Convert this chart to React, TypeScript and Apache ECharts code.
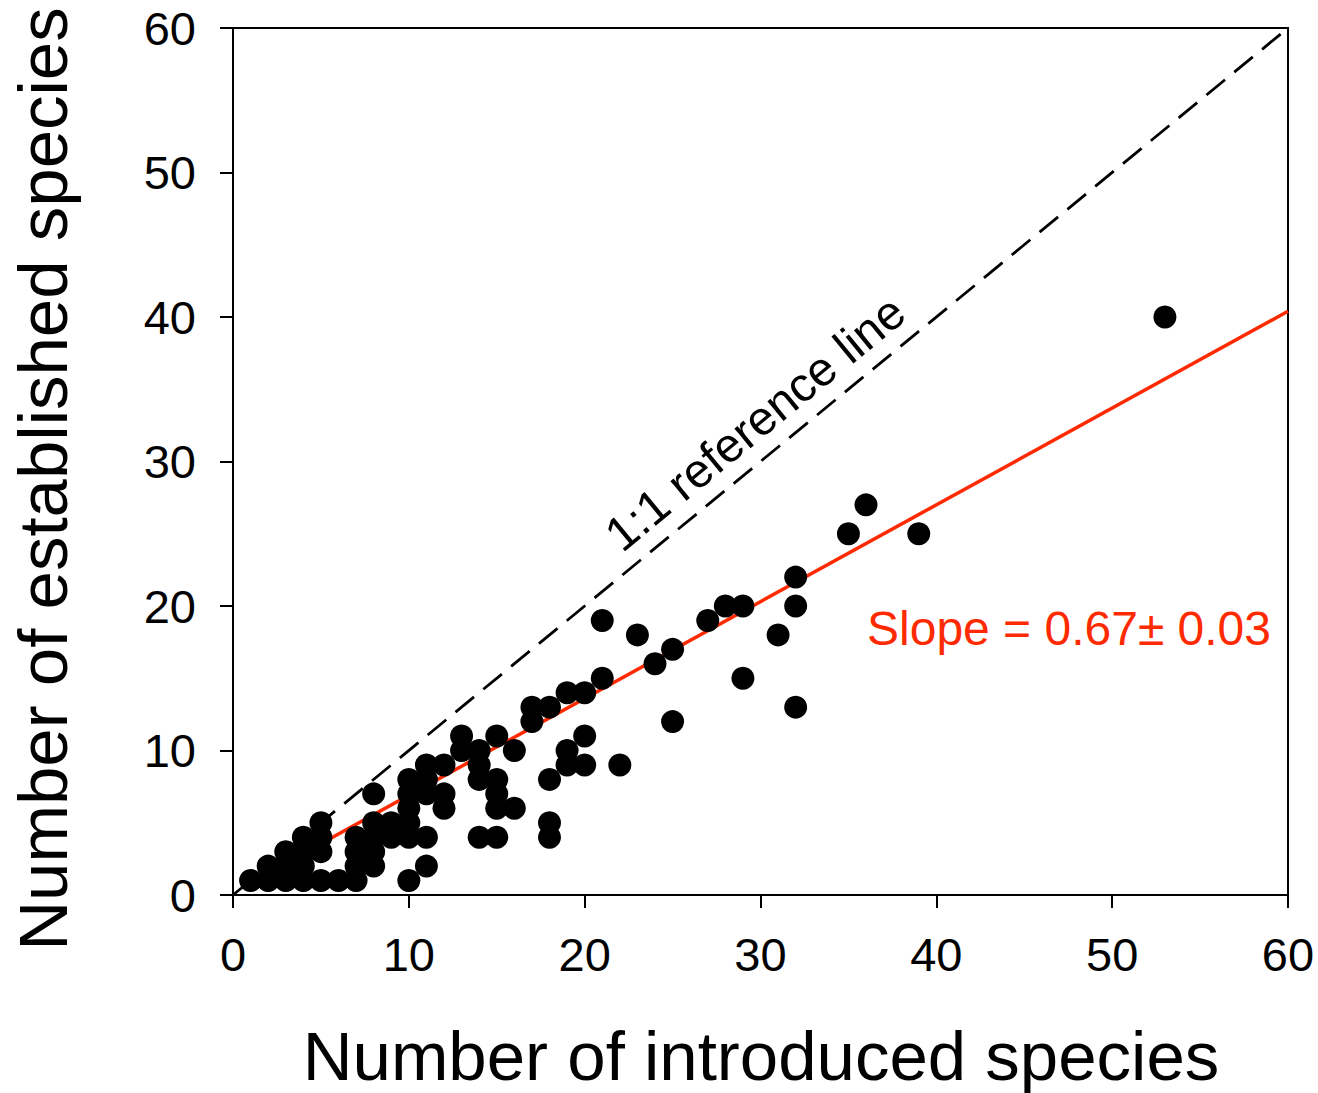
import React, { useEffect, useRef } from "react";
import * as echarts from "echarts";

// Data
const introduced = [1, 2, 2, 3, 3, 3, 4, 4, 4, 4, 5, 5, 5, 5, 6, 7, 7, 7, 7, 8, 8, 8, 8, 8, 9, 9, 10, 10, 10, 10, 10, 10, 11, 11, 11, 11, 11, 12, 12, 12, 13, 13, 14, 14, 14, 14, 15, 15, 15, 15, 15, 16, 16, 17, 17, 18, 18, 18, 18, 19, 19, 19, 20, 20, 20, 21, 21, 22, 23, 24, 25, 25, 27, 28, 29, 29, 31, 32, 32, 32, 35, 36, 39, 53];
const established = [1, 1, 2, 1, 2, 3, 1, 2, 3, 4, 1, 3, 4, 5, 1, 1, 2, 3, 4, 2, 3, 4, 5, 7, 4, 5, 1, 4, 5, 6, 7, 8, 2, 4, 7, 8, 9, 6, 7, 9, 10, 11, 4, 8, 9, 10, 4, 6, 7, 8, 11, 6, 10, 12, 13, 4, 5, 8, 13, 9, 10, 14, 9, 11, 14, 15, 19, 9, 18, 16, 12, 17, 19, 20, 15, 20, 18, 13, 20, 22, 25, 27, 25, 40];

const fitSlope = 0.67;
const fitIntercept = 0.2;
const fitRange = [1, 60];
const refRange = [0, 60];
const axisTicks = [0, 10, 20, 30, 40, 50, 60];

const xTitle = "Number of introduced species";
const yTitle = "Number of established species";
const refLabel = "1:1 reference line";
const slopeLabel = "Slope = 0.67\u00b1 0.03";

const FONT = "'Liberation Sans', Arial, sans-serif";
const RED = "#ff2a00";

export default function App() {
  const ref = useRef<HTMLDivElement>(null);
  useEffect(() => {
    if (!ref.current) return;
    const chart = echarts.init(ref.current, null, { renderer: "svg" });
    const points = introduced.map((x, i) => [x, established[i]]);
    const fitLine = fitRange.map((x) => [x, fitIntercept + fitSlope * x]);
    const refLine = refRange.map((x) => [x, x]);
    const axisCommon = {
      type: "value" as const,
      min: axisTicks[0],
      max: axisTicks[axisTicks.length - 1],
      interval: 10,
      splitLine: { show: false },
      axisLine: { show: true, onZero: false, lineStyle: { color: "#000", width: 2 } },
      axisTick: { show: true, inside: false, length: 13, lineStyle: { color: "#000", width: 2 } },
    };
    chart.setOption({
      animation: false,
      backgroundColor: "#fff",
      grid: {
        left: 233,
        right: 30,
        top: 28,
        bottom: 198,
        show: true,
        borderColor: "#000",
        borderWidth: 2,
        backgroundColor: "transparent",
      },
      xAxis: {
        ...axisCommon,
        axisLabel: { color: "#000", fontSize: 47, fontFamily: FONT, margin: 36 },
      },
      yAxis: {
        ...axisCommon,
        axisLabel: { color: "#000", fontSize: 47, fontFamily: FONT, margin: 37 },
      },
      series: [
        {
          type: "line",
          data: refLine,
          symbol: "none",
          silent: true,
          lineStyle: { color: "#000", width: 2.8, type: [24, 12] },
          z: 1,
        },
        {
          type: "line",
          data: fitLine,
          symbol: "none",
          silent: true,
          lineStyle: { color: RED, width: 3.5 },
          z: 2,
        },
        {
          type: "scatter",
          data: points,
          symbol: "circle",
          symbolSize: 23,
          itemStyle: { color: "#000", opacity: 1 },
          z: 3,
        },
      ],
      graphic: [
        {
          type: "text",
          x: 761,
          y: 1056,
          style: {
            text: xTitle,
            fontSize: 69,
            fontFamily: FONT,
            fill: "#000",
            textAlign: "center",
            textVerticalAlign: "middle",
          },
        },
        {
          type: "text",
          x: 43,
          y: 479,
          rotation: Math.PI / 2,
          style: {
            text: yTitle,
            fontSize: 69,
            fontFamily: FONT,
            fill: "#000",
            textAlign: "center",
            textVerticalAlign: "middle",
          },
        },
        {
          type: "text",
          x: 755,
          y: 423,
          rotation: (39.4 * Math.PI) / 180,
          style: {
            text: refLabel,
            fontSize: 48,
            fontFamily: FONT,
            fill: "#000",
            textAlign: "center",
            textVerticalAlign: "middle",
          },
        },
        {
          type: "text",
          x: 1271,
          y: 628,
          style: {
            text: slopeLabel,
            fontSize: 48,
            fontFamily: FONT,
            fill: RED,
            textAlign: "right",
            textVerticalAlign: "middle",
          },
        },
      ],
    });
    return () => chart.dispose();
  }, []);
  return (
    <div
      ref={ref}
      style={{ position: "absolute", left: 0, top: 0, width: 1318, height: 1093 }}
    />
  );
}
